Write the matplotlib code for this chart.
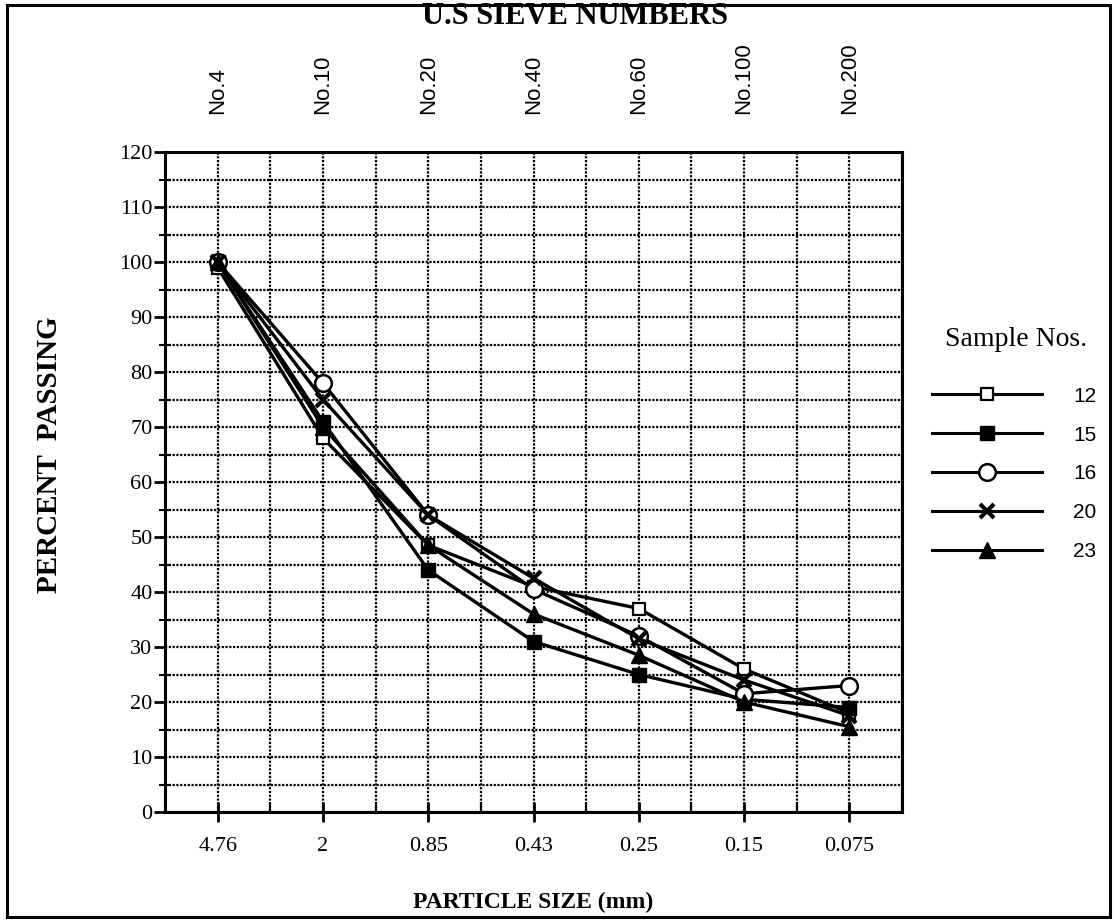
import numpy as np
import matplotlib
matplotlib.use("Agg")
import matplotlib.pyplot as plt
from matplotlib.ticker import MultipleLocator, FixedLocator
from matplotlib.patches import Rectangle

# Sieve analysis: percent passing per sieve for each soil sample
particle_sizes = ["4.76", "2", "0.85", "0.43", "0.25", "0.15", "0.075"]
sieve_numbers = ["No.4", "No.10", "No.20", "No.40", "No.60", "No.100", "No.200"]
sample_ids = ["12", "15", "16", "20", "23"]

passing_12 = [99, 68, 48.5, 41, 37, 26, 18]
passing_15 = [100, 71, 44, 31, 25, 20.5, 19]
passing_16 = [100, 78, 54, 40.5, 32, 21.5, 23]
passing_20 = [100, 75, 54, 42.5, 31.5, 24, 17.5]
passing_23 = [100, 70, 48.5, 36, 28.5, 20, 15.5]

series = [passing_12, passing_15, passing_16, passing_20, passing_23]
styles = [
    dict(marker="s", markersize=8, markerfacecolor="white", markeredgewidth=1.6),
    dict(marker="s", markersize=10, markerfacecolor="black"),
    dict(marker="o", markersize=12, markerfacecolor="white", markeredgewidth=1.8),
    dict(marker="x", markersize=10, markeredgewidth=3),
    dict(marker="^", markersize=12, markerfacecolor="black"),
]

serif = "Liberation Serif"
sans = "Liberation Sans"

fig = plt.figure(figsize=(11.14, 9.24), dpi=100)
ax = fig.add_axes([165 / 1114, 1 - 812 / 924, (902 - 165) / 1114, (812 - 152) / 924])

x = np.arange(len(particle_sizes))
handles = []
for vals, st in zip(series, styles):
    (h,) = ax.plot(x, vals, color="black", linewidth=2.4, markeredgecolor="black",
                   zorder=3, **st)
    handles.append(h)

ax.set_xlim(-0.5, len(particle_sizes) - 0.5)
ax.set_ylim(0, 120)

ax.xaxis.set_major_locator(FixedLocator(x))
ax.xaxis.set_minor_locator(MultipleLocator(0.5))
ax.set_xticklabels(particle_sizes, fontfamily=serif, fontsize=16)
ax.yaxis.set_major_locator(MultipleLocator(10))
ax.yaxis.set_minor_locator(MultipleLocator(5))
for lbl in ax.get_yticklabels():
    lbl.set_fontfamily(serif)
    lbl.set_fontsize(16)

ax.tick_params(axis="x", which="major", direction="inout", length=14, width=2, pad=11)
ax.tick_params(axis="x", which="minor", direction="in", length=7, width=1.5)
ax.tick_params(axis="y", which="major", direction="out", length=8, width=2, pad=1)
ax.tick_params(axis="y", which="minor", direction="inout", length=8, width=1.5)

ax.grid(True, which="both", color="black", linewidth=1.6, linestyle=(0, (1, 0.7)))
ax.set_axisbelow(True)
for sp in ax.spines.values():
    sp.set_linewidth(2.2)

# Sieve numbers along the top edge
top = ax.secondary_xaxis("top")
top.xaxis.set_major_locator(FixedLocator(x))
top.set_xticklabels(sieve_numbers, rotation=90, fontfamily=sans, fontsize=16)
top.tick_params(length=0, pad=27)
top.spines["top"].set_visible(False)

ax.set_xlabel("PARTICLE SIZE (mm)", fontfamily=serif, fontweight="bold",
              fontsize=17, labelpad=26)
fig.text(50 / 1114, 1 - 455 / 924, "PERCENT  PASSING", rotation=90,
         fontfamily=serif, fontweight="bold", fontsize=21, ha="center", va="center")
fig.text(575 / 1114, 1 - 17 / 924, "U.S SIEVE NUMBERS", fontfamily=serif,
         fontweight="bold", fontsize=22, ha="center", va="center")

# Legend: sample numbers with their line/marker styles
fig.text(1016 / 1114, 1 - 340 / 924, "Sample Nos.", fontfamily=serif,
         fontsize=20, ha="center", va="center")
leg = fig.legend(handles, sample_ids, loc="upper left",
                 bbox_to_anchor=(913 / 1114, 1 - 368 / 924),
                 frameon=False, handlelength=5.3, handletextpad=1.5,
                 labelspacing=0.95, borderpad=0.4,
                 prop={"family": sans, "size": 15})
for lh in leg.get_lines():
    lh.set_linewidth(2.2)

# Outer border around the whole figure
fig.patches.append(Rectangle((7 / 1114, 1 - 917 / 924), 1103 / 1114, 912 / 924,
                             transform=fig.transFigure, fill=False,
                             edgecolor="black", linewidth=2.2))

fig.savefig("out.png", dpi=100)
